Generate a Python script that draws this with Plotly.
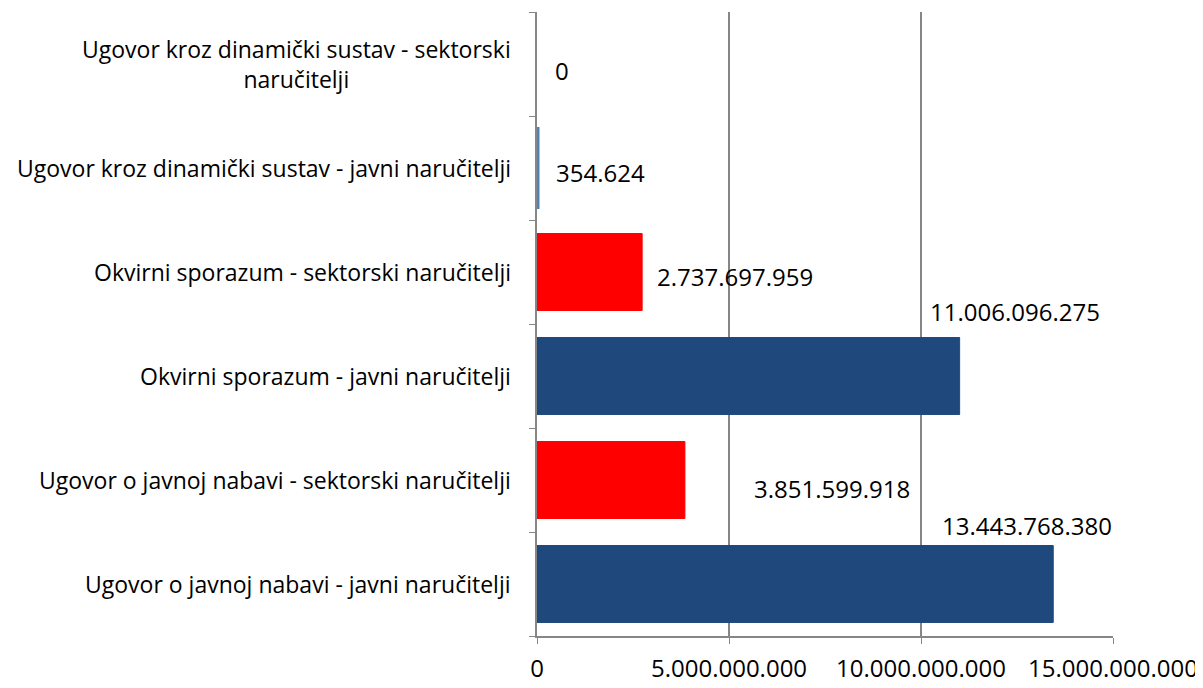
import plotly.graph_objects as go

# Data
categories = [
    "Ugovor o javnoj nabavi - javni naručitelji",
    "Ugovor o javnoj nabavi - sektorski naručitelji",
    "Okvirni sporazum - javni naručitelji",
    "Okvirni sporazum - sektorski naručitelji",
    "Ugovor kroz dinamički sustav - javni naručitelji",
    "Ugovor kroz dinamički sustav - sektorski<br>naručitelji",
]
values = [13443768380, 3851599918, 11006096275, 2737697959, 354624, 0]
value_labels = ["13.443.768.380", "3.851.599.918", "11.006.096.275",
                "2.737.697.959", "354.624", "0"]
tick_vals = [0, 5e9, 10e9, 15e9]
tick_text = ["0", "5.000.000.000", "10.000.000.000", "15.000.000.000"]

bar_colors = ["#1F497D", "#FF0000", "#1F497D", "#FF0000", "#4F81BD", "#4F81BD"]
line_colors = ["#1F497D", "#FF0000", "#1F497D", "#FF0000", "#4F81BD", "rgba(0,0,0,0)"]
line_widths = [1, 1, 1, 1, 5, 0]

# Excel-like label placement (pixel shifts from bar end)
label_dx = [-113, 67, -32, 13, 17, 16]
label_dy = [59, -8, 65, -4, -4, -6]

FONT = "Open Sans"

fig = go.Figure()
fig.add_trace(go.Bar(
    y=categories,
    x=values,
    orientation="h",
    width=0.74,
    marker=dict(color=bar_colors, line=dict(color=line_colors, width=line_widths)),
    hoverinfo="x+y",
))

# Value labels
for cat, v, lab, dx, dy in zip(categories, values, value_labels, label_dx, label_dy):
    fig.add_annotation(x=v, y=cat, xref="x", yref="y", text=lab,
                       showarrow=False, xanchor="left", yanchor="middle",
                       xshift=dx, yshift=dy,
                       font=dict(family=FONT, size=24, color="#000000"))

# Category labels (centered multi-line like Excel)
for cat in categories:
    fig.add_annotation(x=0, y=cat, xref="paper", yref="y", text=cat,
                       showarrow=False, xanchor="right", yanchor="middle",
                       align="center", xshift=-24,
                       font=dict(family=FONT, size=23, color="#000000"))

fig.update_xaxes(
    range=[0, 15e9],
    tickvals=tick_vals,
    ticktext=tick_text,
    automargin=False,
    showgrid=True,
    gridcolor="#868686",
    gridwidth=1.5,
    zeroline=False,
    showline=True,
    linecolor="#868686",
    linewidth=1.5,
    ticks="outside",
    ticklen=6,
    tickcolor="#868686",
    tickfont=dict(family=FONT, size=24, color="#000000"),
    ticklabelstandoff=4,
)
fig.update_yaxes(
    categoryorder="array",
    categoryarray=categories,
    range=[-0.5, 5.5],
    automargin=False,
    showticklabels=False,
    showline=True,
    linecolor="#868686",
    linewidth=1.5,
    ticks="outside",
    ticklen=6,
    tickcolor="#868686",
    tickson="boundaries",
    showgrid=False,
)

# page body has an 8px margin, so the figure is sized/offset to fit the window
fig.update_layout(
    width=1195,
    height=680,
    margin=dict(l=529, r=90, t=4, b=52),
    plot_bgcolor="#FFFFFF",
    paper_bgcolor="#FFFFFF",
    showlegend=False,
    bargap=0.26,
    font=dict(family=FONT),
)

fig.write_html("out.html")
